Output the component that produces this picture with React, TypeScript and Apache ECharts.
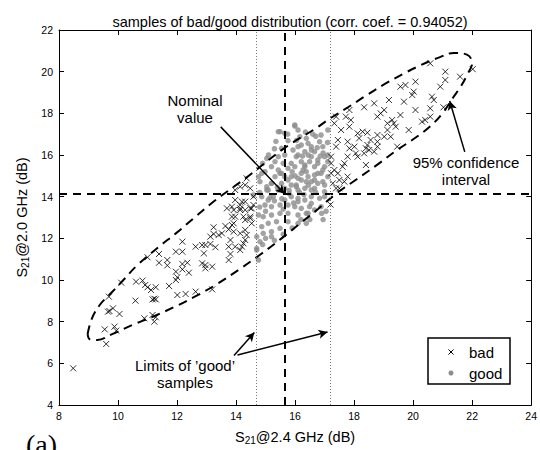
import React, { useEffect, useRef } from "react";
import * as echarts from "echarts";

const titleText = "samples of bad/good distribution (corr. coef. = 0.94052)";
const xTicks = [8, 10, 12, 14, 16, 18, 20, 22, 24];
const yTicks = [4, 6, 8, 10, 12, 14, 16, 18, 20, 22];

const nominalX = 15.65;
const nominalY = 14.13;
const limitLow = 14.7;
const limitHigh = 17.2;

const badPoints: number[][] = [
  [20.58,20.40],[21.09,20.00],[21.09,19.60],[21.59,19.76],[22.02,20.12],[20.92,19.28],[20.64,18.80],[20.70,18.64],
  [21.03,18.29],[20.58,18.24],[20.08,19.52],[19.74,19.36],[19.57,19.28],[20.02,19.04],[19.97,18.88],[19.69,18.56],
  [19.18,18.64],[18.68,18.48],[18.34,18.29],[19.02,18.16],[18.90,18.00],[18.79,17.84],[17.84,18.16],[17.72,17.84],
  [17.89,17.68],[17.39,17.84],[17.33,17.52],[17.84,17.36],[17.56,17.20],[18.12,17.04],[18.29,17.12],[18.45,17.07],
  [18.17,16.80],[18.56,16.72],[18.79,16.96],[19.13,17.52],[19.29,17.68],[19.35,17.52],[19.41,17.36],[19.57,17.92],
  [19.13,17.20],[19.02,16.88],[19.24,16.88],[19.46,16.40],[19.85,17.20],[20.08,18.16],[20.30,17.60],[20.41,17.68],
  [20.58,17.84],[17.45,16.72],[17.39,16.40],[17.78,16.64],[17.84,16.32],[18.01,16.40],[18.06,16.08],[18.12,15.92],
  [18.34,16.08],[18.40,16.32],[18.45,16.48],[18.51,16.24],[18.79,16.64],[18.79,16.40],[18.68,16.16],[18.40,15.52],
  [17.78,15.92],[17.67,15.60],[17.61,15.44],[17.22,15.60],[17.33,15.28],[17.45,15.12],[17.22,15.12],[17.50,14.80],
  [17.67,14.72],[17.78,14.96],[17.28,14.64],[17.39,14.40],[17.50,14.40],[17.20,13.62],[17.22,15.92],
  [8.48,5.76],[9.60,6.93],[9.55,7.63],[9.88,7.76],[9.94,7.57],[9.66,8.48],[9.71,8.51],[9.83,8.64],[10.05,8.37],
  [9.69,9.20],[10.11,9.87],[10.61,9.92],[10.83,9.97],[10.92,9.76],[11.00,9.65],[11.28,9.65],[10.59,9.01],
  [11.00,11.09],[11.39,11.25],[11.39,10.83],[11.67,10.96],[11.67,10.70],[11.12,9.52],[11.17,9.07],[11.23,9.10],
  [11.28,9.07],[10.89,8.16],[11.17,8.32],[11.28,8.21],[11.23,8.00],[11.73,9.71],[12.01,9.28],[12.29,9.33],
  [12.63,9.44],[13.19,9.55],[11.96,10.40],[11.96,10.00],[12.01,10.13],[12.18,10.51],[12.18,10.77],[12.35,10.83],
  [12.40,10.35],[12.18,11.36],[11.96,11.36],[12.18,11.84],[12.63,11.60],[12.85,11.68],[12.96,11.68],[13.13,11.73],
  [13.30,11.57],[12.91,11.28],[12.85,10.80],[12.96,10.72],[13.19,10.64],[12.96,10.56],[13.24,12.53],[13.24,12.21],
  [13.41,12.16],[13.52,12.24],[13.13,12.08],[13.64,12.59],[13.75,12.43],[13.86,12.64],[13.92,12.72],[13.92,12.32],
  [13.81,11.92],[13.75,11.60],[13.81,11.25],[13.75,10.96],[13.97,11.60],[14.14,11.44],[14.20,11.60],[14.25,11.76],
  [14.31,11.92],[14.14,12.24],[14.31,12.40],[14.36,12.16],[13.97,13.04],[14.14,13.36],[14.25,13.04],[14.31,12.88],
  [14.48,12.96],[13.86,13.52],[14.14,13.60],[14.31,13.76],[14.48,13.44],[14.53,12.72],[14.59,13.60],[14.36,14.88],
  [14.14,14.48],[14.31,14.56],[13.97,14.32],[14.48,14.40],[13.97,13.84],[14.20,13.76],[13.69,13.44],[13.92,13.36],
  [14.14,13.44],[14.31,13.36],[14.53,13.44],[14.59,14.00],[13.86,13.04],[14.48,13.04]
];

const goodPoints: number[][] = [
  [15.99,17.44],[15.49,17.12],[16.16,16.88],[16.38,16.80],[16.44,16.56],[16.21,16.48],[16.33,16.16],[16.83,16.64],
  [16.94,16.40],[16.55,16.24],[15.65,16.00],[16.10,16.00],[16.04,15.92],[16.66,16.16],[16.44,16.00],[16.55,15.92],
  [17.11,16.00],[17.11,15.68],[17.00,15.44],[16.94,15.28],[16.77,15.12],[16.66,15.04],[16.33,15.52],[16.27,15.28],
  [16.38,15.20],[16.21,15.12],[16.44,14.96],[16.10,14.88],[16.21,14.80],[16.38,14.72],[16.55,14.72],[16.04,14.56],
  [15.87,14.56],[15.76,14.80],[15.65,14.96],[15.54,15.12],[15.43,15.28],[15.32,14.96],[15.20,14.64],[15.04,14.48],
  [14.87,15.12],[14.76,14.96],[14.81,14.72],[15.54,14.64],[15.65,14.40],[15.43,14.32],[15.09,14.32],[16.10,14.32],
  [16.33,14.40],[16.66,14.40],[16.77,14.64],[16.94,14.72],[17.11,14.96],[15.76,15.36],[15.87,15.60],[15.99,15.44],
  [16.66,15.44],[16.77,15.76],[16.49,15.68],[16.21,15.68],[15.43,17.12],[15.99,17.39],[15.76,16.69],[15.54,16.32],
  [16.10,16.40],[15.20,15.44],[15.49,15.12],[14.98,15.20],[15.20,14.64],[15.04,14.32],[15.87,14.96],[16.04,14.48],
  [15.65,17.04],[16.10,17.20],[17.11,17.20],[16.88,16.96],[16.55,16.40],[17.00,15.92],[16.77,15.60],[16.33,15.44],
  [16.88,15.12],[16.66,14.80],[17.00,14.56],[16.55,14.32],[17.00,14.24],[15.65,13.84],[16.10,13.76],[16.55,13.68],
  [16.88,13.52],[16.44,13.20],[14.59,14.08],[14.87,14.00],[15.09,13.84],[15.26,14.00],[15.87,14.00],[16.10,13.92],
  [16.33,13.84],[16.55,14.00],[16.83,13.92],[17.00,14.00],[14.98,13.60],[15.20,13.52],[15.49,13.60],[15.76,13.60],
  [15.99,13.52],[16.21,13.44],[16.49,13.52],[16.66,13.36],[16.38,13.20],[16.10,13.12],[15.76,13.20],[15.49,13.20],
  [15.20,13.12],[14.92,13.04],[14.76,13.12],[15.37,12.80],[15.76,12.80],[16.10,12.72],[16.38,12.72],[15.09,12.72],
  [14.87,12.56],[15.49,12.48],[15.20,12.32],[14.92,12.24],[14.81,11.84],[15.20,12.08],[14.70,11.52],[14.76,10.96],
  [14.70,12.08],[14.70,11.44],[15.32,15.68],[15.04,15.84],[15.43,15.92],[15.93,16.24],[16.70,16.90],[16.95,16.10],
  [15.30,16.30],[15.10,16.00],[14.90,15.60],[15.60,15.60],[15.90,15.20],[16.00,15.00],[15.80,14.30],[15.30,13.80],
  [15.60,13.40],[15.00,13.30],[16.30,14.10],[16.70,14.20],[16.90,13.20],[16.20,12.90],[15.90,12.50],[15.60,12.20],
  [15.30,11.90],[14.90,11.70],[15.00,12.00],[16.50,12.90],[17.05,13.30],[16.95,12.90],[15.40,14.45],[15.80,14.15],
  [16.25,15.95],[16.05,16.70],[15.75,17.00],[16.35,17.10],[16.60,17.00],[15.35,16.65],[14.80,14.20],[14.80,13.50],
  [15.15,13.95],[16.85,15.95],[17.10,16.60],[16.75,16.35],[15.55,13.90],[16.45,14.55],[16.15,14.20],[15.95,13.70]
];

const ellipsePoints: number[][] = [
  [8.97,7.40],[9.10,8.10],[9.38,8.80],[9.75,9.35],[10.15,9.95],[10.66,10.72],[11.39,11.60],[11.97,12.25],
  [12.55,12.95],[13.18,13.70],[13.85,14.40],[14.52,15.10],[15.09,15.75],[15.76,16.45],[16.67,17.25],[17.18,17.75],
  [17.78,18.28],[18.35,18.80],[19.03,19.40],[19.70,19.92],[20.24,20.30],[20.91,20.70],[21.38,20.90],[21.82,20.82],
  [22.00,20.42],[21.85,19.90],[21.62,19.30],[21.35,18.75],[21.02,18.05],[20.60,17.40],[20.10,16.85],[19.46,16.24],
  [18.80,15.55],[18.10,14.85],[17.40,14.15],[16.77,13.40],[16.20,12.75],[15.50,11.95],[14.80,11.20],[14.10,10.50],
  [13.35,9.80],[12.60,9.20],[11.90,8.70],[11.20,8.25],[10.50,7.85],[9.80,7.40],[9.30,7.12],[9.05,7.15],[8.97,7.40]
];

const arrowNominal = [[13.48, 17.35], [15.65, 14.13]];
const arrowConf = [[21.75, 16.15], [21.24, 18.59]];
const arrowLimitLow = [[13.93, 6.38], [14.62, 7.48]];
const arrowLimitHigh = [[14.05, 6.4], [17.1, 7.5]];

const FONT = "Liberation Sans, Arial, Helvetica, sans-serif";

export default function App() {
  const ref = useRef<HTMLDivElement>(null);
  useEffect(() => {
    if (!ref.current) return;
    document.body.style.margin = "0";
    const chart = echarts.init(ref.current, null, { renderer: "svg" });
    const axisCommon = {
      type: "value" as const,
      axisLine: { show: true, onZero: false, lineStyle: { color: "#000", width: 1 } },
      axisTick: { show: true, inside: true, length: 5, lineStyle: { color: "#000" } },
      splitLine: { show: false },
    };
    const richName = {
      a: { fontSize: 14.5, fontFamily: FONT, color: "#000", lineHeight: 16, verticalAlign: "top" },
      sub: { fontSize: 10, fontFamily: FONT, color: "#000", lineHeight: 11, padding: [9, 0, 0, 0], verticalAlign: "bottom" },
    };
    const arrowLine = (pts: number[][]) => [
      { coord: pts[0], symbol: "none" },
      { coord: pts[1], symbol: "arrow" },
    ];
    chart.setOption({
      animation: false,
      backgroundColor: "#fff",
      title: {
        text: titleText,
        left: 285,
        textAlign: "center",
        top: 9,
        textStyle: { fontSize: 14.5, fontWeight: "normal", fontFamily: FONT, color: "#000" },
      },
      grid: { left: 59, right: 5, top: 30, bottom: 45, containLabel: false },
      xAxis: [
        {
          ...axisCommon,
          min: 8, max: 24, interval: 2,
          axisLabel: { color: "#000", fontSize: 10.5, fontFamily: FONT, margin: 5, customValues: xTicks },
          name: "{a|S}{sub|21}{a|@2.4 GHz (dB)}",
          nameLocation: "middle",
          nameGap: 24,
          nameTextStyle: { rich: richName },
        },
        { ...axisCommon, position: "top", min: 8, max: 24, interval: 2, axisLabel: { show: false } },
      ],
      yAxis: [
        {
          ...axisCommon,
          min: 4, max: 22, interval: 2,
          axisLabel: { color: "#000", fontSize: 10.5, fontFamily: FONT, margin: 6, customValues: yTicks },
          name: "{a|S}{sub|21}{a|@2.0 GHz (dB)}",
          nameLocation: "middle",
          nameGap: 28,
          nameTextStyle: { rich: richName },
        },
        { ...axisCommon, position: "right", min: 4, max: 22, interval: 2, axisLabel: { show: false } },
      ],
      series: [
        {
          name: "good",
          type: "scatter",
          data: goodPoints,
          symbol: "circle",
          symbolSize: 5.5,
          itemStyle: { color: "#8c8c8c" },
          z: 2,
        },
        {
          name: "bad",
          type: "scatter",
          data: badPoints,
          symbol: "path://M0,0L10,10M10,0L0,10",
          symbolSize: 6,
          itemStyle: { color: "none", borderColor: "#000", borderWidth: 1 },
          z: 3,
        },
        {
          name: "ellipse",
          type: "line",
          data: ellipsePoints,
          smooth: 0.4,
          symbol: "none",
          lineStyle: { color: "#000", width: 2, type: [9, 6] },
          z: 4,
          silent: true,
          markLine: {
            silent: true,
            symbol: ["none", "none"],
            label: { show: false },
            data: [
              { xAxis: nominalX, lineStyle: { color: "#000", width: 2, type: [8, 6] } },
              { yAxis: nominalY, lineStyle: { color: "#000", width: 2, type: [8, 6] } },
              { xAxis: limitLow, lineStyle: { color: "#777", width: 1, type: [1, 2] } },
              { xAxis: limitHigh, lineStyle: { color: "#777", width: 1, type: [1, 2] } },
            ],
          },
        },
        {
          name: "arrows",
          type: "line",
          data: [],
          z: 5,
          markLine: {
            silent: true,
            symbolSize: [7, 9],
            label: { show: false },
            lineStyle: { color: "#000", width: 1.5, type: "solid" },
            data: [
              arrowLine(arrowNominal),
              arrowLine(arrowConf),
              arrowLine(arrowLimitLow),
              arrowLine(arrowLimitHigh),
            ],
          },
        },
      ],
      graphic: [
        {
          type: "text", x: 195, y: 92,
          style: { text: "Nominal\nvalue", textAlign: "center", fontSize: 15, fontFamily: FONT, fill: "#000", lineHeight: 17 },
        },
        {
          type: "text", x: 466, y: 154,
          style: { text: "95% confidence\ninterval", textAlign: "center", fontSize: 15, fontFamily: FONT, fill: "#000", lineHeight: 17 },
        },
        {
          type: "text", x: 185, y: 357,
          style: { text: "Limits of \u2019good\u2019\nsamples", textAlign: "center", fontSize: 15, fontFamily: FONT, fill: "#000", lineHeight: 17 },
        },
        {
          type: "rect", shape: { x: 428, y: 338, width: 82, height: 46 },
          style: { fill: "#fff", stroke: "#000", lineWidth: 1.5 }, z: 10,
        },
        { type: "line", shape: { x1: 448.5, y1: 349.5, x2: 453.5, y2: 354.5 }, style: { stroke: "#000", lineWidth: 1 }, z: 11 },
        { type: "line", shape: { x1: 453.5, y1: 349.5, x2: 448.5, y2: 354.5 }, style: { stroke: "#000", lineWidth: 1 }, z: 11 },
        { type: "circle", shape: { cx: 451, cy: 373, r: 2.5 }, style: { fill: "#8c8c8c" }, z: 11 },
        {
          type: "text", x: 469, y: 352, z: 11,
          style: { text: "bad", fontSize: 15, fontFamily: FONT, fill: "#000", verticalAlign: "middle" },
        },
        {
          type: "text", x: 469, y: 373, z: 11,
          style: { text: "good", fontSize: 15, fontFamily: FONT, fill: "#000", verticalAlign: "middle" },
        },
        {
          type: "text", x: 26, y: 430,
          style: { text: "(a)", fontSize: 28, fontFamily: "Liberation Serif, DejaVu Serif, serif", fill: "#000" },
        },
      ],
    });
    return () => chart.dispose();
  }, []);
  return <div ref={ref} style={{ width: 540, height: 450 }} />;
}
